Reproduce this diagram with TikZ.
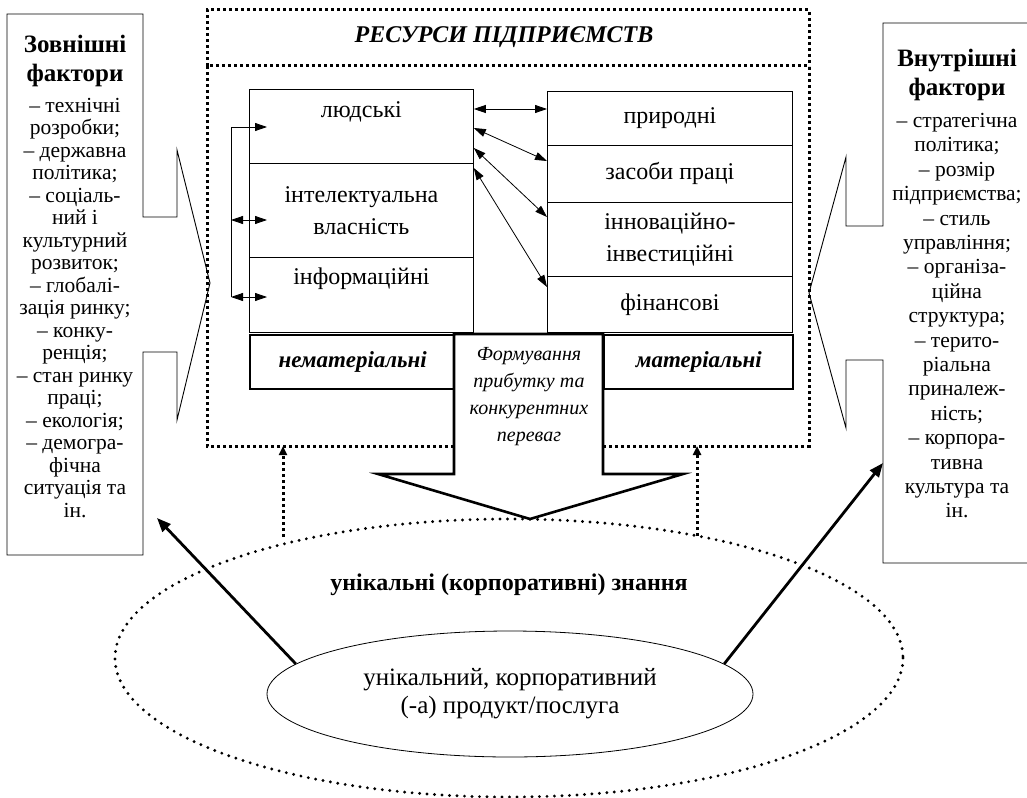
\documentclass[tikz,border=0pt]{standalone}
\usepackage{fontspec}
\setmainfont{Liberation Serif}
\usetikzlibrary{positioning,arrows.meta,shapes.geometric}

\tikzset{
  cell/.style={draw, line width=0.8pt, inner sep=0pt, anchor=north west, align=center,
    font=\fontsize{24}{32}\selectfont},
  tag/.style={draw, line width=2.4pt, inner sep=0pt, anchor=north west,
    font=\fontsize{23}{26}\selectfont\bfseries\itshape},
  txt/.style={inner sep=0pt, align=center, font=\fontsize{24}{32}\selectfont},
  side/.style={inner sep=0pt, align=center, anchor=north, font=\fontsize{21.5}{22.5}\selectfont},
  sidehead/.style={inner sep=0pt, align=center, font=\fontsize{25}{29}\selectfont\bfseries},
  link/.style={line width=0.8pt, {Triangle[length=12pt,width=8pt]}-{Triangle[length=12pt,width=8pt]}},
  sqdots/.style={line width=3pt, dash pattern=on 3pt off 3pt},
  rnddots/.style={line width=3.2pt, line cap=round, dash pattern=on 0pt off 7.5pt},
  bigarrow/.style={line width=2.8pt, -{Triangle[length=14pt,width=11pt]}},
}

\begin{document}
\begin{tikzpicture}[x=1pt, y=-1pt]
    \useasboundingbox (0,0) rectangle (1027,797);

    % outer frame with title
    \draw[sqdots] (207,66) -- (207,10) -- (809,10) -- (809,66);
    \draw[sqdots] (454,446) -- (207,446) -- (207,66) -- (809,66) -- (809,446) -- (603,446);
    \node[inner sep=0pt, font=\fontsize{24}{28}\selectfont\bfseries\itshape] (title) at (504,37) {РЕСУРСИ ПІДПРИЄМСТВ};

    % left column
    \node[cell, minimum width=224, minimum height=74] (lyud) at (249,89) {};
    \node[cell, minimum width=224, minimum height=94] (intel) at (249,163) {інтелектуальна\\власність};
    \node[cell, minimum width=224, minimum height=75] (inf) at (249,257) {};
    \node[txt, below=12pt of lyud.north] (lyudt) {людські};
    \node[txt, below=11pt of inf.north] (inft) {інформаційні};

    % right column
    \node[cell, minimum width=245, minimum height=54] (pryr) at (547,91) {природні};
    \node[cell, minimum width=245, minimum height=57] (zas) at (547,145) {засоби праці};
    \node[cell, minimum width=245, minimum height=74] (inn) at (547,202) {інноваційно-\\інвестиційні};
    \node[cell, minimum width=245, minimum height=56] (fin) at (547,276) {фінансові};

    \node[tag, minimum width=205, minimum height=54] (nemat) at (249,334) {нематеріальні};
    \node[tag, minimum width=189, minimum height=54] (mat) at (603,334) {матеріальні};

    % bracket on the left
    \coordinate (b1) at (231,127);
    \coordinate (b2) at (231,220);
    \coordinate (b3) at (231,297);
    \draw[line width=0.8pt] (b1) -- (b3);
    \draw[line width=0.8pt, -{Triangle[length=12pt,width=8pt]}] (b1) -- ++(36,0) coordinate (e1);
    \draw[link] (b2) -- ++(36,0) coordinate (e2);
    \draw[link] (b3) -- ++(36,0) coordinate (e3);

    % links between columns
    \draw[link] (lyud.east |- 0,109) -- (pryr.west |- 0,109);
    \draw[link] (lyud.east |- 0,128) -- (zas.west |- 0,161);
    \draw[link] (lyud.east |- 0,148) -- (inn.west |- 0,217);
    \draw[link] (lyud.east |- 0,168) -- (fin.west |- 0,287);

    % big arrow
    \draw[line width=2.6pt, line join=miter, fill=white] (454,334) coordinate (sh1) -- (454,474) -- (378,474)
        -- (530,519) coordinate (tip) -- (683,474) -- (603,474) -- (603,334) -- cycle;
    \node[inner sep=0pt, align=center, font=\fontsize{20}{27}\selectfont\itshape] (form) at (529,397)
        {Формування\\прибутку та\\конкурентних\\переваг};

    % knowledge ellipses
    \draw[rnddots] (509,658) ellipse [x radius=394, y radius=139];
    \node[inner sep=0pt, font=\fontsize{24}{28}\selectfont\bfseries] (know) at (509,585) {унікальні (корпоративні) знання};
    \node[draw, ellipse, line width=0.8pt, minimum width=486, minimum height=126, inner sep=0pt,
          align=center, font=\fontsize{25}{28}\selectfont] (prod) at (510,694)
          {унікальний, корпоративний\\(-а) продукт/послуга};

    % side callouts
    \draw[line width=0.9pt] (143,217) -- (143,14) -- (7,14) -- (7,555) -- (143,555) -- (143,352)
        -- (177,352) -- (177,420) -- (210,283) coordinate (ltip) -- (177,150) -- (177,217) -- cycle;
    \draw[line width=0.9pt] (1040,23) -- (883,23) -- (883,226) -- (846,226) -- (846,157)
        -- (809,293) coordinate (rtip) -- (846,428) -- (846,360) -- (883,360) -- (883,563) -- (1040,563);
    \coordinate (lbox) at (157,518);
    \coordinate (rbox) at (883,463);

    \node[sidehead] (exth) at (75,61) {Зовнішні\\фактори};
    \node[side] (ext) at (75,98) {– технічні\\розробки;\\– державна\\політика;\\– соціаль-\\ний і\\культурний\\розвиток;\\– глобалі-\\зація ринку;\\– конку-\\ренція;\\– стан ринку\\праці;\\– екологія;\\– демогра-\\фічна\\ситуація та\\ін.};
    \node[sidehead] (inth) at (957,75) {Внутрішні\\фактори};
    \node[side, font=\fontsize{21.5}{24.4}\selectfont] (int) at (957,113) {– стратегічна\\політика;\\– розмір\\підприємства;\\– стиль\\управління;\\– організа-\\ційна\\структура;\\– терито-\\ріальна\\приналеж-\\ність;\\– корпора-\\тивна\\культура та\\ін.};

    % arrows from knowledge
    \draw[sqdots, -{Triangle[length=9pt,width=8pt]}] (283,537) -- (283 ,446);
    \draw[sqdots, -{Triangle[length=9pt,width=8pt]}] (697,536) -- (697,446);
    \draw[bigarrow] (prod.172) -- (lbox);
    \draw[bigarrow] (prod.8) -- (rbox);
\end{tikzpicture}
\end{document}
